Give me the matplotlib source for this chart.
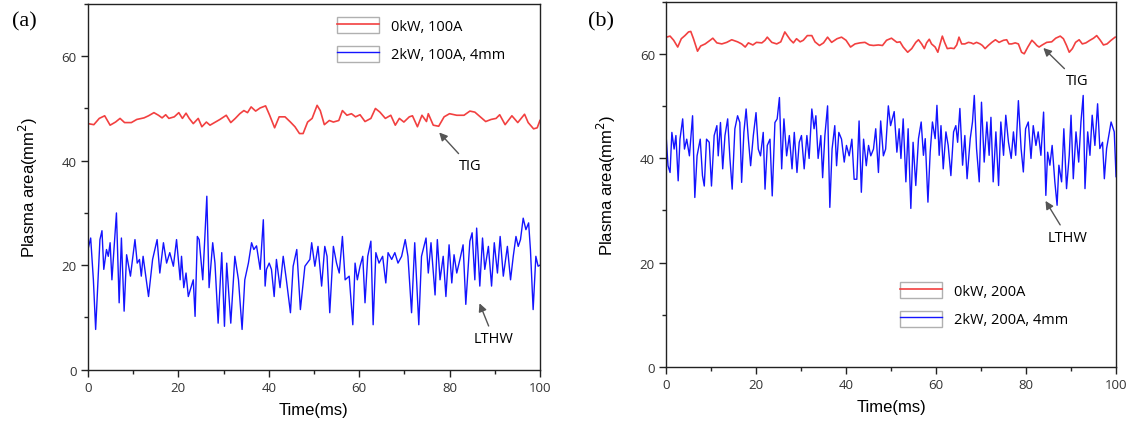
import matplotlib
matplotlib.use('Agg')
import matplotlib.pyplot as plt
from matplotlib.legend_handler import HandlerLine2D
from matplotlib.patches import Rectangle
from matplotlib.ticker import MultipleLocator

# ---- panel (a): 100A ----
t_tig_a = [0, 1.3, 2.5, 3.7, 4.9, 6.1, 7.1, 8.1, 9.6, 10.8, 12.4, 13.4, 14.6, 15.6, 16.4, 17.2, 17.9,
           19.1, 20.1, 20.9, 21.7, 22.4, 23.3, 24.4, 25.2, 26.2, 27.0, 28.0, 29.2, 30.6, 31.6, 32.6,
           33.6, 34.5, 35.3, 36.1, 37.1, 38.1, 39.3, 40.2, 41.3, 42.3, 43.6, 44.8, 45.8, 46.8, 47.6,
           48.6, 49.6, 50.7, 51.4, 52.3, 53.4, 54.3, 55.5, 56.3, 57.3, 58.3, 59.2, 60.2, 61.3, 62.6,
           63.6, 64.6, 65.8, 67.0, 68.0, 68.9, 69.9, 71.1, 71.8, 72.9, 73.9, 74.9, 75.3, 76.4, 77.6,
           78.8, 80.0, 81.6, 83.2, 84.5, 85.6, 86.8, 88.0, 89.2, 90.3, 91.1, 92.3, 93.8, 95.1, 96.6,
           97.4, 98.6, 99.4, 100]
v_tig_a = [47.1, 46.9, 48.1, 48.6, 46.8, 47.4, 48.1, 47.3, 47.3, 47.9, 48.2, 48.6, 49.2, 48.7, 48.2,
           48.8, 48.1, 48.4, 49.2, 48.1, 49.1, 48.1, 47.1, 48.1, 46.5, 47.4, 46.8, 47.3, 47.9, 48.7,
           47.3, 48.1, 49.0, 49.6, 49.2, 50.3, 49.5, 50.1, 50.5, 48.7, 46.3, 48.4, 48.4, 47.4, 46.5,
           45.2, 45.2, 47.4, 48.1, 50.6, 49.6, 46.9, 47.7, 47.4, 47.7, 49.6, 48.7, 49.0, 48.4, 48.8,
           47.5, 48.1, 50.0, 49.3, 48.1, 48.7, 46.8, 48.1, 47.4, 48.4, 48.6, 46.5, 48.7, 47.5, 49.0,
           46.8, 46.6, 48.4, 49.0, 48.7, 48.7, 49.5, 49.3, 48.4, 47.5, 47.9, 48.1, 48.8, 46.9, 48.6,
           47.3, 48.9, 47.3, 46.1, 46.3, 47.7]

t_lthw_a = [0, 0.6, 1.2, 1.7, 2.65, 3.1, 3.5, 4.1, 4.5, 4.9, 5.3, 6.3, 6.9, 7.4, 8.0, 8.55, 9.4, 10.4,
            10.9, 11.4, 11.8, 12.2, 13.4, 14.3, 15.3, 15.9, 16.7, 17.4, 18.1, 18.9, 19.6, 20.4, 20.7,
            21.2, 21.7, 22.2, 23.3, 23.7, 24.2, 24.6, 25.4, 26.3, 26.8, 27.6, 28.1, 28.8, 29.6, 30.2,
            30.7, 31.6, 32.5, 33.3, 34.1, 34.7, 35.5, 36.2, 36.7, 37.3, 38.1, 38.8, 39.2, 39.5, 40.1,
            40.6, 41.2, 41.7, 42.5, 43.2, 43.9, 44.8, 45.4, 46.2, 47.0, 48.0, 49.1, 49.5, 50.2, 50.9,
            51.7, 52.4, 52.9, 53.5, 54.3, 55.0, 55.6, 56.3, 56.9, 57.8, 58.6, 59.1, 59.6, 60.2, 60.8,
            61.3, 61.9, 62.6, 63.1, 63.7, 64.4, 65.2, 65.9, 66.4, 67.2, 67.9, 68.6, 69.4, 70.2, 70.8,
            71.6, 72.3, 73.2, 73.8, 74.8, 75.3, 75.9, 76.8, 77.3, 77.9, 78.6, 79.2, 79.9, 80.5, 81.0,
            81.6, 82.3, 83.0, 83.6, 84.5, 85.0, 85.6, 86.0, 86.7, 87.3, 87.8, 88.6, 89.3, 89.9, 90.6,
            91.2, 91.9, 92.8, 93.5, 94.1, 94.7, 95.2, 95.7, 96.3, 96.9, 97.5, 97.9, 98.5, 99.1, 99.6,
            100]
v_lthw_a = [23.0, 25.2, 17.2, 7.7, 24.9, 26.6, 19.2, 23.0, 21.7, 24.3, 17.2, 30.0, 12.8, 25.2, 11.2,
            22.0, 17.9, 24.9, 20.4, 21.1, 17.9, 21.7, 14.0, 21.1, 24.9, 18.5, 24.3, 20.4, 22.4, 19.8,
            24.9, 17.2, 21.7, 15.7, 18.5, 14.0, 17.2, 10.2, 25.5, 24.9, 17.2, 33.2, 15.7, 24.3, 20.4,
            8.9, 22.4, 8.3, 20.4, 8.9, 21.7, 17.2, 7.7, 17.2, 20.4, 24.3, 23.0, 23.7, 19.2, 28.7, 16.0,
            19.2, 20.4, 19.2, 14.0, 21.1, 15.7, 21.7, 17.2, 10.9, 19.8, 23.0, 11.5, 19.8, 21.1, 24.3,
            19.8, 23.6, 16.0, 23.6, 21.7, 10.9, 23.6, 20.4, 18.5, 25.5, 17.2, 17.9, 8.6, 20.4, 17.2,
            19.8, 21.7, 12.8, 21.7, 24.6, 8.6, 22.4, 20.4, 21.7, 16.6, 22.4, 21.1, 22.4, 20.4, 21.7,
            24.9, 21.7, 10.9, 24.3, 8.6, 21.7, 25.2, 18.5, 24.3, 14.3, 24.9, 17.2, 21.7, 14.0, 23.9,
            16.6, 22.0, 18.5, 21.1, 23.9, 12.5, 24.6, 26.2, 17.2, 27.1, 16.0, 25.2, 19.2, 23.6, 16.0,
            24.3, 18.5, 25.5, 17.9, 23.6, 17.2, 21.7, 25.5, 23.6, 24.9, 29.0, 26.8, 28.1, 23.0, 11.5,
            21.7, 19.8, 20.0]

# ---- panel (b): 200A ----
t_tig_b = [0.1, 0.9, 1.7, 2.6, 3.4, 4.2, 5.0, 5.5, 6.1, 7.0, 7.7, 8.7, 9.8, 10.4, 11.3, 12.4, 13.5,
           14.6, 15.9, 16.8, 17.6, 18.3, 19.3, 20.1, 21.3, 22.0, 22.5, 23.5, 24.6, 25.5, 26.4, 27.6,
           28.3, 29.0, 29.8, 30.5, 31.4, 32.4, 33.1, 34.1, 35.0, 35.9, 36.8, 38.0, 39.0, 40.0, 41.0,
           42.0, 43.1, 44.2, 45.2, 46.1, 47.2, 48.1, 49.0, 50.1, 51.3, 52.0, 52.7, 53.7, 54.6, 55.5,
           56.1, 56.8, 57.4, 57.9, 58.5, 59.0, 59.8, 60.4, 60.9, 61.4, 61.9, 62.5, 63.3, 64.0, 64.6,
           65.1, 65.7, 66.4, 67.2, 67.8, 68.3, 69.0, 69.8, 70.3, 70.9, 71.6, 72.4, 73.2, 74.0, 75.0,
           75.7, 76.2, 76.8, 77.6, 78.3, 79.0, 79.6, 80.4, 81.3, 81.9, 82.4, 82.9, 83.6, 84.6, 85.7,
           86.6, 87.6, 88.3, 89.0, 89.6, 90.3, 91.0, 91.8, 92.5, 93.3, 94.2, 95.0, 95.7, 96.5, 97.2,
           98.0, 98.9, 99.8]
v_tig_b = [63.3, 63.5, 62.7, 61.4, 63.0, 63.6, 64.3, 64.4, 63.0, 60.6, 61.6, 62.0, 62.7, 63.1, 62.2,
           62.0, 62.3, 62.8, 62.4, 62.0, 61.4, 62.2, 61.8, 62.3, 62.2, 62.7, 63.3, 62.3, 62.0, 62.4,
           64.3, 62.8, 62.2, 63.0, 62.4, 62.7, 63.6, 63.6, 62.4, 61.7, 62.2, 63.3, 62.3, 63.0, 63.3,
           62.7, 61.4, 62.0, 62.2, 62.3, 61.8, 61.7, 61.8, 61.7, 62.7, 63.1, 62.3, 62.4, 61.4, 60.4,
           61.1, 62.3, 62.8, 62.0, 61.1, 62.2, 62.9, 62.0, 61.4, 60.4, 62.0, 63.5, 62.3, 61.1, 61.2,
           61.1, 61.8, 63.3, 62.0, 62.0, 62.3, 62.2, 62.0, 62.3, 62.0, 61.7, 61.1, 61.7, 62.3, 62.8,
           62.3, 62.7, 62.8, 62.0, 62.0, 62.2, 62.0, 60.4, 60.1, 61.4, 62.7, 62.2, 61.7, 61.4, 61.8,
           62.3, 62.4, 63.1, 63.5, 63.0, 61.7, 60.4, 61.1, 62.3, 62.8, 62.0, 62.2, 62.7, 63.1, 63.6,
           62.7, 61.8, 62.0, 62.7, 63.3]

t_lthw_b = [0, 0.44, 0.9, 1.3, 1.8, 2.2, 2.7, 3.1, 3.7, 4.1, 4.6, 5.2, 5.9, 6.4, 6.9, 7.6, 8.1, 8.5,
            9.0, 9.6, 10.1, 10.7, 11.3, 11.6, 12.1, 12.6, 13.1, 13.7, 14.2, 14.7, 15.3, 15.9, 16.4,
            16.8, 17.3, 17.8, 18.3, 18.8, 19.4, 20.0, 20.5, 21.0, 21.6, 22.0, 22.5, 23.1, 23.6, 24.2,
            24.7, 25.2, 25.7, 26.2, 26.8, 27.4, 28.0, 28.5, 29.1, 29.6, 30.1, 30.7, 31.3, 31.8, 32.4,
            32.9, 33.3, 33.8, 34.4, 34.8, 35.3, 35.9, 36.4, 36.9, 37.5, 37.9, 38.4, 39.0, 39.6, 40.1,
            40.7, 41.3, 41.8, 42.4, 42.9, 43.4, 43.9, 44.5, 45.0, 45.5, 46.1, 46.6, 47.2, 47.7, 48.3,
            48.8, 49.4, 49.9, 50.7, 51.3, 51.8, 52.2, 52.7, 53.3, 53.8, 54.4, 54.9, 55.5, 56.1, 56.7,
            57.2, 57.6, 58.2, 58.7, 59.2, 59.8, 60.2, 60.7, 61.1, 61.6, 62.2, 62.7, 63.3, 63.9, 64.4,
            64.8, 65.3, 65.9, 66.4, 66.9, 67.6, 68.1, 68.5, 69.0, 69.6, 70.1, 70.7, 71.3, 71.8, 72.2,
            72.7, 73.3, 73.9, 74.4, 75.0, 75.5, 76.1, 76.7, 77.2, 77.7, 78.3, 78.9, 79.4, 79.9, 80.5,
            81.1, 81.6, 82.2, 82.7, 83.3, 83.9, 84.4, 84.8, 85.3, 85.8, 86.4, 86.9, 87.3, 87.9, 88.4,
            89.0, 89.6, 90.0, 90.5, 91.1, 91.7, 92.2, 92.7, 93.1, 93.7, 94.2, 94.7, 95.3, 95.9, 96.4,
            97.0, 97.4, 97.9, 98.4, 98.9, 99.6, 100]
v_lthw_b = [44.7, 38.6, 37.3, 45.0, 41.8, 44.4, 35.7, 43.7, 47.6, 41.8, 43.7, 40.5, 48.2, 32.5, 40.5,
            43.7, 36.7, 34.7, 43.7, 43.1, 34.7, 44.4, 46.3, 40.5, 46.9, 38.0, 44.4, 47.6, 40.0, 34.1,
            45.7, 48.2, 46.9, 35.4, 45.0, 49.5, 43.7, 38.6, 44.4, 48.8, 41.8, 40.5, 45.0, 34.1, 42.5,
            43.7, 32.8, 46.9, 47.6, 51.7, 38.0, 47.6, 40.5, 44.4, 38.0, 45.0, 37.3, 43.1, 44.4, 38.0,
            44.4, 40.0, 49.5, 45.7, 48.2, 40.0, 44.4, 36.3, 44.4, 50.1, 30.6, 41.8, 46.3, 38.6, 45.0,
            43.7, 39.3, 42.5, 40.5, 43.7, 36.0, 36.0, 47.2, 33.5, 43.7, 38.6, 42.5, 40.5, 41.8, 45.7,
            37.3, 47.2, 40.5, 41.8, 50.1, 46.3, 49.0, 41.2, 45.7, 40.0, 47.6, 35.5, 45.7, 30.4, 43.1,
            34.8, 43.8, 47.0, 40.6, 43.8, 31.6, 41.2, 47.0, 43.8, 50.2, 40.6, 46.3, 38.0, 45.1, 42.5,
            36.7, 45.1, 46.3, 43.1, 49.6, 38.7, 44.4, 36.1, 43.8, 47.0, 52.1, 41.9, 35.5, 50.8, 39.3,
            47.0, 40.6, 47.9, 35.5, 45.1, 34.8, 47.0, 40.6, 48.3, 43.1, 40.0, 45.1, 40.6, 51.1, 41.9,
            37.4, 45.7, 47.0, 40.0, 46.3, 42.5, 45.1, 40.6, 48.9, 32.9, 41.2, 38.7, 42.5, 35.5, 31.0,
            38.7, 35.5, 45.7, 34.2, 40.6, 48.3, 36.1, 45.1, 39.3, 47.0, 52.1, 34.2, 45.1, 40.6, 48.3,
            42.5, 50.5, 41.9, 43.1, 36.1, 41.9, 44.4, 47.0, 45.1, 36.5]

panels = [
    dict(tig=(t_tig_a, v_tig_a), lthw=(t_lthw_a, v_lthw_a), tag='(a)',
         labels=['0kW, 100A', '2kW, 100A, 4mm']),
    dict(tig=(t_tig_b, v_tig_b), lthw=(t_lthw_b, v_lthw_b), tag='(b)',
         labels=['0kW, 200A', '2kW, 200A, 4mm']),
]


class BoxedLine(HandlerLine2D):
    # Origin-style legend: each line sample sits inside its own little grey box
    def create_artists(self, legend, orig_handle, xdescent, ydescent, width, height, fontsize, trans):
        arts = super().create_artists(legend, orig_handle, xdescent, ydescent, width, height, fontsize, trans)
        box = Rectangle((-xdescent, -ydescent), width, height, fc='none', ec='#b0b0b0', lw=1.0,
                        transform=trans)
        return [box] + list(arts)


fig = plt.figure(figsize=(11.35, 4.31), dpi=100)
ax_a = fig.add_axes([0.0775, 0.140, 0.3982, 0.8484])
ax_b = fig.add_axes([0.5868, 0.147, 0.3965, 0.8454])

tick_font = dict(family='Open Sans', size=9.5)
for ax, p in zip([ax_a, ax_b], panels):
    l1, = ax.plot(*p['tig'], color='#f24040', lw=1.2)
    l2, = ax.plot(*p['lthw'], color='#1414ff', lw=1.0)
    ax.set_xlim(0, 100)
    ax.set_ylim(0, 70)
    ax.xaxis.set_major_locator(MultipleLocator(20))
    ax.xaxis.set_minor_locator(MultipleLocator(10))
    ax.yaxis.set_major_locator(MultipleLocator(20))
    ax.yaxis.set_minor_locator(MultipleLocator(10))
    ax.tick_params(which='both', direction='out', color='#222222', width=1.0)
    ax.tick_params(which='major', length=5, labelcolor='#333333', pad=3)
    ax.tick_params(which='minor', length=3)
    for lab in ax.get_xticklabels() + ax.get_yticklabels():
        lab.set_fontproperties(tick_font)
    for s in ax.spines.values():
        s.set_linewidth(1.0)
        s.set_color('#222222')
    ax.set_xlabel('Time(ms)', family='Liberation Sans', size=12, labelpad=6)
    ax.set_ylabel('Plasma area(mm$^2$)', family='Liberation Sans', size=12, labelpad=16)
    p['lines'] = (l1, l2)

# legends
leg_pos = [(0.551, 0.964), (0.52, 0.232)]
for ax, p, pos in zip([ax_a, ax_b], panels, leg_pos):
    leg = ax.legend(p['lines'], p['labels'], loc='upper left', bbox_to_anchor=pos, frameon=False,
                    borderpad=0, borderaxespad=0, handlelength=2.9, handleheight=1.3,
                    handletextpad=0.8, labelspacing=0.8,
                    prop=dict(family='Open Sans', size=10.5),
                    handler_map={plt.Line2D: BoxedLine()})
    for ln in leg.get_lines():
        ln.set_linewidth(1.0)

# arrow annotations
arrow = dict(arrowstyle='-|>', color='#555555', lw=1.0, mutation_scale=12)
ann_font = dict(family='Open Sans', size=10.5, ha='center', va='center')
ax_a.annotate('TIG', xy=(77.3, 45.8), xytext=(84.5, 39.0), arrowprops=arrow, **ann_font)
ax_a.annotate('LTHW', xy=(86.4, 13.2), xytext=(89.8, 5.9), arrowprops=arrow, **ann_font)
ax_b.annotate('TIG', xy=(83.4, 61.6), xytext=(91.3, 54.9), arrowprops=arrow, **ann_font)
ax_b.annotate('LTHW', xy=(84.0, 32.3), xytext=(89.3, 24.8), arrowprops=arrow, **ann_font)

fig.text(0.0106, 0.949, '(a)', family='Liberation Serif', size=16, va='center', ha='left')
fig.text(0.518, 0.949, '(b)', family='Liberation Serif', size=16, va='center', ha='left')

fig.savefig('out.png', dpi=100)
